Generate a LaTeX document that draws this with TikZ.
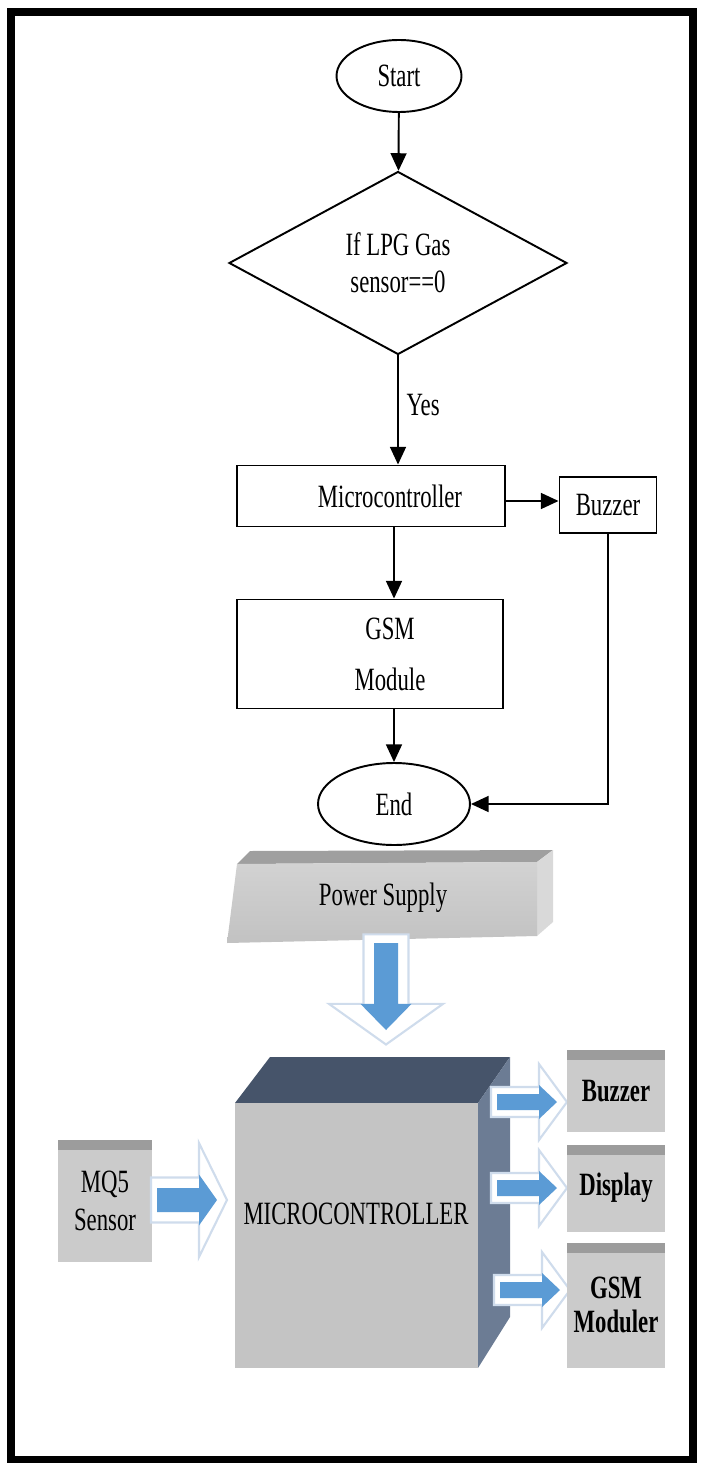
\documentclass[tikz,border=0pt]{standalone}
\usepackage{fontspec}
\setmainfont{Liberation Serif}[FakeStretch=0.7]
\usetikzlibrary{shapes.geometric,arrows.meta,positioning,calc}
\definecolor{arrowblue}{HTML}{5B9BD5}
\definecolor{glow}{HTML}{CFDCEC}
\definecolor{slatetop}{HTML}{46546A}
\definecolor{slateside}{HTML}{6C7C94}
\definecolor{facegray}{HTML}{C4C4C4}
\definecolor{boxgray}{HTML}{CBCBCB}
\definecolor{stripgray}{HTML}{9C9C9C}

\tikzset{
  flow/.style={draw=black, line width=1.1pt, inner sep=0pt, align=center,
    font=\fontsize{18.5}{21}\selectfont},
  terminal/.style={flow, ellipse},
  decision/.style={flow, diamond, aspect=2},
  process/.style={flow, rectangle},
  link/.style={line width=1.1pt, -{Triangle[length=10pt,width=9pt]}},
  blocktext/.style={font=\fontsize{18.5}{21}\selectfont, align=center},
  sidebox/.style={fill=boxgray, inner sep=0pt, align=center, minimum width=1.96cm,
    font=\bfseries\fontsize{18.5}{19}\selectfont,
    path picture={\fill[stripgray] (path picture bounding box.north west)
      rectangle ([yshift=-0.2cm]path picture bounding box.north east);}},
  pics/barrow/.style={code={
    \filldraw[fill=white, draw=glow, line width=1.2pt]
      (-6,-15) -- (42,-15) -- (42,-38) -- (70,0) -- (42,38) -- (42,15) -- (-6,15) -- cycle;
    \fill[arrowblue] (0,-8) -- (42,-8) -- (42,-17) -- (60,0) -- (42,17) -- (42,8) -- (0,8) -- cycle;
  }}
}

\begin{document}
\begin{tikzpicture}[x=0.02cm, y=-0.02cm]
  \useasboundingbox (0,0) rectangle (703,1466);
  \draw[line width=4pt] (11,12) rectangle (693,1459);

  % flow chart
  \node[terminal, minimum width=2.5cm, minimum height=1.44cm] (start) at (399,76) {Start};
  \node[decision, minimum width=6.76cm, minimum height=3.66cm] (test) at (398,263) {If LPG Gas\\sensor==0};
  \node[process, minimum width=5.36cm, minimum height=1.22cm] (mcu1) at (371,496) {\hspace*{0.76cm}Microcontroller};
  \node[process, minimum width=1.94cm, minimum height=1.12cm] (buzzer) at (608,505) {Buzzer};
  \node[process, minimum width=5.32cm, minimum height=2.18cm, font=\fontsize{18.5}{29}\selectfont] (gsm) at (370,654) {\hspace*{0.8cm}GSM\\\hspace*{0.8cm}Module};
  \node[terminal, minimum width=3.04cm, minimum height=1.64cm] (endn) at (394,804) {End};

  \draw[link] (start) -- (test);
  \draw[link] (test.south) -- (test.south |- mcu1.north)
    node[pos=0.45, right=1pt, font=\fontsize{18.5}{21}\selectfont] (yes) {Yes};
  \draw[link] (mcu1.east |- 0,501) -- (buzzer.west |- 0,501);
  \draw[link] (mcu1.south -| endn) -- (gsm.north -| endn);
  \draw[link] (gsm.south -| endn) -- (endn);
  \draw[link] (buzzer.south) |- (endn.east);

  % power supply slab
  \fill[gray!75] (237,864) -- (250,851) -- (553,850) -- (537,862) -- cycle;
  \fill[gray!30] (537,862) -- (553,850) -- (553,922) -- (537,936) -- cycle;
  \shade[top color=gray!35, bottom color=gray!48] (237,864) -- (537,862) -- (537,936) -- (227,943) -- cycle;
  \node[blocktext] (psu) at (383,898) {Power Supply};
  \pic[rotate=-90, xscale=1.45, yscale=1.5] at (386,943) {barrow};

  % microcontroller block
  \fill[slatetop] (235,1103) -- (270,1057) -- (510,1057) -- (478,1103) -- cycle;
  \fill[slateside] (478,1103) -- (510,1057) -- (510,1317) -- (478,1368) -- cycle;
  \fill[facegray] (235,1103) rectangle (478,1368);
  \node[blocktext] (mcu2) at (356,1214) {MICROCONTROLLER};

  \pic at (497,1102) {barrow};
  \pic at (497,1188) {barrow};
  \pic at (500,1290) {barrow};

  % sensor and outputs
  \node[sidebox, minimum width=1.88cm, minimum height=2.44cm, font=\fontsize{18.5}{21.5}\selectfont] (mq5) at (105,1201) {MQ5\\Sensor};
  \pic[yscale=1.5] at (157,1200) {barrow};
  \node[sidebox, minimum height=1.64cm] (bz2) at (616,1091) {Buzzer};
  \node[sidebox, minimum height=1.74cm] (disp) at (616,1188) {Display};
  \node[sidebox, minimum height=2.5cm, font=\bfseries\fontsize{18.5}{19}\selectfont] (gsm2) at (616,1305) {GSM\\Moduler};
\end{tikzpicture}
\end{document}
